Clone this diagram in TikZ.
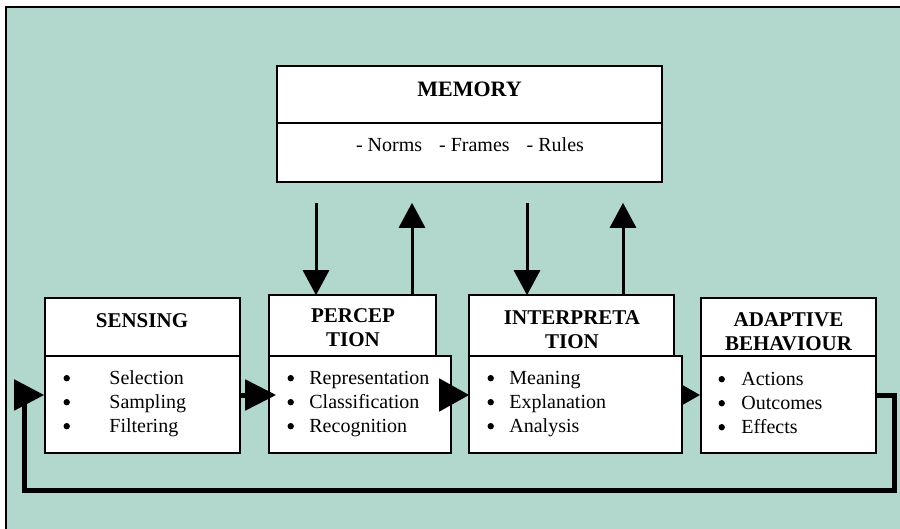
\documentclass[tikz,border=0pt]{standalone}
\usepackage{fontspec}
\setmainfont{Liberation Serif}
\usetikzlibrary{arrows.meta,calc}
\definecolor{panel}{RGB}{178,216,206}
\begin{document}
\begin{tikzpicture}[x=1pt,y=-1pt,
  box/.style={draw=black,fill=white,line width=1.6pt,inner sep=0pt},
  title/.style={inner sep=0pt,anchor=base,font=\fontsize{21}{24}\selectfont\bfseries},
  plain/.style={inner sep=0pt,anchor=base,font=\fontsize{20}{24}\selectfont},
  list/.style={inner sep=0pt,anchor=base west,font=\fontsize{20}{24}\selectfont},
  hflow/.style={line width=5pt},
  vflow/.style={line width=3pt,-{Triangle[length=25pt,width=26pt]}},
  loopline/.style={line width=5pt,line join=miter}
]
\useasboundingbox (0,0) rectangle (900,529);
% panel
\fill[white] (0,0) rectangle (900,529);
\fill[panel] (6,7) rectangle (900,529);
\draw[line width=1.6pt] (6,529) -- (6,7) -- (900,7);

% memory
\node[box,minimum width=385pt,minimum height=57pt] (memH) at (469.5,94.5) {};
\node[box,minimum width=385pt,minimum height=59pt] (memB) at (469.5,152.5) {};
\node[title,font=\fontsize{22}{24}\selectfont\bfseries] (memT) at ($(memH.north)+(0,31)$) {MEMORY};
\node[plain] (memL) at ($(memB.north)+(0.5,29)$) {- Norms\hspace{17pt}- Frames\hspace{17pt}- Rules};

% sensing
\node[box,minimum width=195pt,minimum height=58pt] (senH) at (142.5,327) {};
\node[box,minimum width=195pt,minimum height=97pt] (senB) at (142.5,404.5) {};
\node[title] (senT) at ($(senH.north)+(-0.5,30)$) {SENSING};
\node[list] (senL) at ($(senB.north west)+(19,29)$)
  {\begin{tabular}[t]{@{\hspace{46pt}}l@{}}Selection\\ Sampling\\ Filtering\end{tabular}};

% perception
\node[box,minimum width=167pt,minimum height=61pt] (perH) at (352.5,325.5) {};
\node[box,minimum width=182pt,minimum height=97pt] (perB) at (360,404.5) {};
\node[title] (perT) at ($(perH.north)+(0.5,28)$)
  {\begin{tabular}[t]{@{}c@{}}PERCEP\\ TION\end{tabular}};
\node[list] (perL) at ($(perB.north west)+(19,29)$)
  {\begin{tabular}[t]{@{\hspace{22pt}}l@{}}Representation\\ Classification\\ Recognition\end{tabular}};

% interpretation
\node[box,minimum width=205pt,minimum height=61pt] (intH) at (571.5,325.5) {};
\node[box,minimum width=213pt,minimum height=97pt] (intB) at (575.5,404.5) {};
\node[title] (intT) at ($(intH.north)+(0.5,30)$)
  {\begin{tabular}[t]{@{}c@{}}INTERPRETA\\ TION\end{tabular}};
\node[list] (intL) at ($(intB.north west)+(19,29)$)
  {\begin{tabular}[t]{@{\hspace{22pt}}l@{}}Meaning\\ Explanation\\ Analysis\end{tabular}};

% adaptive behaviour
\node[box,minimum width=175pt,minimum height=58pt] (adH) at (788.5,327) {};
\node[box,minimum width=175pt,minimum height=97pt] (adB) at (788.5,404.5) {};
\node[title] (adT) at ($(adH.north)+(0,29)$)
  {\begin{tabular}[t]{@{}c@{}}ADAPTIVE\\ BEHAVIOUR\end{tabular}};
\node[list] (adL) at ($(adB.north west)+(18,30)$)
  {\begin{tabular}[t]{@{\hspace{23pt}}l@{}}Actions\\ Outcomes\\ Effects\end{tabular}};

% list bullets, one per row
\foreach \lst in {senL,perL,intL,adL}
  \foreach \row in {0,1,2}
    \fill ($(\lst.base west)+(3.5,-6+24*\row)$) circle (3.2pt);

% flow between stages
\draw[hflow,-{Triangle[length=31pt,width=30pt]}] ($(senB.east)+(0,-9.5)$) -- ($(perB.west)+(8,-9.5)$);
\draw[hflow,-{Triangle[length=30pt,width=32pt]}] ($(perB.east)+(0,-9.5)$) -- ($(intB.west)+(1,-9.5)$);
\draw[hflow,-{Triangle[length=19pt,width=20pt]}] ($(intB.east)+(0,-9.5)$) -- ($(adB.west)+(0,-9.5)$);

% feedback loop
\draw[loopline,-{Triangle[length=30pt,width=30pt]}] ($(adB.east)+(0,-9.5)$) -- ++(18,0) -- ++(0,95)
  -| ($(senB.west)+(-20,-9.5)$) -- ($(senB.west)+(0,-9.5)$);

% exchange with memory
\draw[vflow] ($(perH.north |- memB.south)+(-36.5,20)$) -- ($(perH.north)+(-36.5,1)$);
\draw[vflow] ($(perH.north)+(59.5,0)$) -- ($(perH.north |- memB.south)+(59.5,20)$);
\draw[vflow] ($(intH.north |- memB.south)+(-44.5,20)$) -- ($(intH.north)+(-44.5,1)$);
\draw[vflow] ($(intH.north)+(51.5,0)$) -- ($(intH.north |- memB.south)+(51.5,20)$);
\end{tikzpicture}
\end{document}
